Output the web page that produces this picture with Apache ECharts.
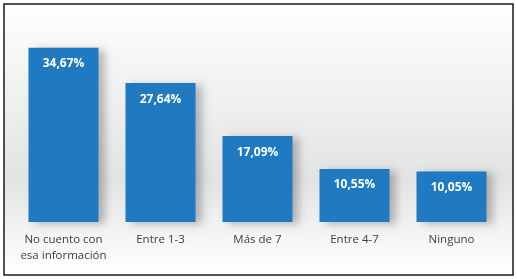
<!DOCTYPE html>
<html>
<head>
<meta charset="utf-8">
<script src="https://cdn.jsdelivr.net/npm/echarts@6/dist/echarts.min.js"></script>
<style>
  html, body { margin: 0; padding: 0; background: #fff; }
  #chart { width: 517px; height: 279px; }
</style>
</head>
<body>
<div id="chart"></div>
<script>
const categories = ["No cuento con\nesa información", "Entre 1-3", "Más de 7", "Entre 4-7", "Ninguno"];
const values = [34.67, 27.64, 17.09, 10.55, 10.05];

const chart = echarts.init(document.getElementById("chart"));

const option = {
  animation: false,
  backgroundColor: "#ffffff",
  graphic: [
    {
      type: "rect",
      z: -10,
      shape: { x: 4, y: 4, width: 509, height: 271 },
      style: {
        fill: new echarts.graphic.LinearGradient(0, 0, 0, 1, [
          { offset: 0, color: "#ffffff" },
          { offset: 0.65, color: "#e2e3e3" },
          { offset: 0.82, color: "#f2f2f2" },
          { offset: 1, color: "#ffffff" },
        ]),
        stroke: "#1a1a1a",
        lineWidth: 1.5,
      },
    },
  ],
  grid: { left: 15, right: 17, top: 21, bottom: 57 },
  xAxis: {
    type: "category",
    data: categories,
    axisLine: { show: false },
    axisTick: { show: false },
    axisLabel: {
      interval: 0,
      color: "#404040",
      fontFamily: "Open Sans",
      fontSize: 11.5,
      lineHeight: 16,
      margin: 10,
    },
  },
  yAxis: {
    type: "value",
    min: 0,
    max: 40,
    show: false,
    splitLine: { show: false },
  },
  series: [
    {
      type: "bar",
      data: values,
      barWidth: 70,
      itemStyle: {
        color: "#1f7ac2",
        shadowColor: "rgba(0,0,0,0.25)",
        shadowBlur: 8,
        shadowOffsetX: 6,
        shadowOffsetY: 2,
      },
      label: {
        show: true,
        position: "insideTop",
        distance: 10,
        color: "#ffffff",
        fontWeight: "bold",
        fontFamily: "Open Sans",
        fontSize: 12,
        formatter: (p) => p.value.toFixed(2).replace(".", ",") + "%",
      },
    },
  ],
};

chart.setOption(option);
</script>
</body>
</html>
